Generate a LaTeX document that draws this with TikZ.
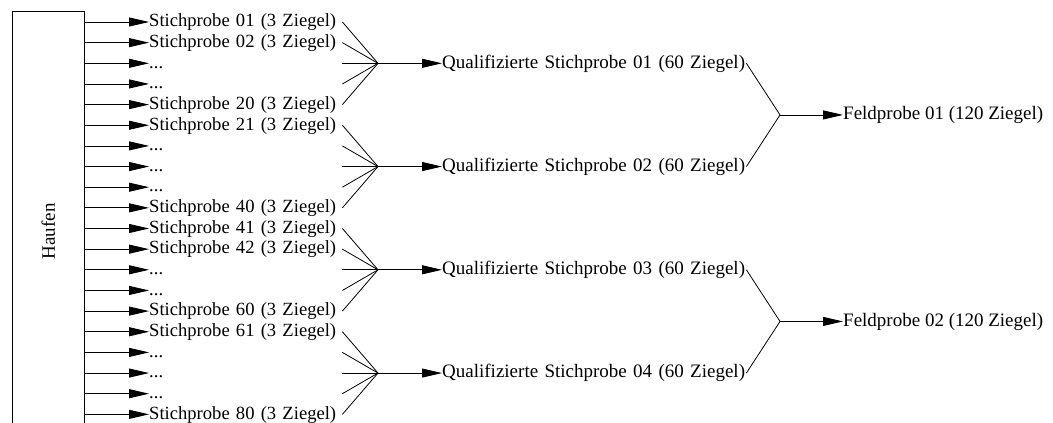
\documentclass[tikz,border=0pt]{standalone}
\usepackage{fontspec}
\setmainfont{Liberation Serif}
\usetikzlibrary{arrows.meta}
\begin{document}
\begin{tikzpicture}[x=1pt,y=-1pt,
  every node/.style={font=\fontsize{19}{22}\selectfont, inner sep=0pt},
  line/.style={draw=black, line width=0.8pt},
  arr/.style={line, -{Triangle[length=20pt,width=9pt]}},
  rowlbl/.style={anchor=west, text width=193pt, align=left, text height=14pt, text depth=4.5pt, font=\fontsize{18.6}{22}\selectfont},
  qlbl/.style={anchor=west, text width=304pt, align=left, text height=14pt, text depth=4.5pt},
  flbl/.style={anchor=west, text height=14pt, text depth=4.5pt}]
\useasboundingbox (0,0) rectangle (1053,423);
\clip (0,0) rectangle (1053,423);
\node[line, minimum width=72pt, minimum height=440pt, anchor=north west] (haufen) at (12,11) {};
\node[rotate=90] (hlabel) at (haufen.center) {Haufen};
\foreach \i/\t in {1/{Stichprobe 01 (3 Ziegel)},2/{Stichprobe 02 (3 Ziegel)},3/{...},4/{...},5/{Stichprobe 20 (3 Ziegel)},
  6/{Stichprobe 21 (3 Ziegel)},7/{...},8/{...},9/{...},10/{Stichprobe 40 (3 Ziegel)},
  11/{Stichprobe 41 (3 Ziegel)},12/{Stichprobe 42 (3 Ziegel)},13/{...},14/{...},15/{Stichprobe 60 (3 Ziegel)},
  16/{Stichprobe 61 (3 Ziegel)},17/{...},18/{...},19/{...},20/{Stichprobe 80 (3 Ziegel)}}{
  \pgfmathsetmacro\yy{22+(\i-1)*20.65}
  \node[rowlbl] (r\i) at (149,\yy) {\t};
  \draw[arr] (haufen.east |- r\i.west) -- (r\i.west);
}
\foreach \g in {1,...,4}{
  \pgfmathtruncatemacro\c{5*(\g-1)+3}
  \coordinate (m\g) at (378,0 |- r\c.west);
  \node[qlbl] (q\g) at (442,0 |- r\c.west) {Qualifizierte Stichprobe 0\g{} (60 Ziegel)};
  \foreach \k in {1,...,5}{
    \pgfmathtruncatemacro\n{5*(\g-1)+\k}
    \draw[line] (r\n.east) -- (m\g);
  }
  \draw[arr] (m\g) -- (q\g.west);
}
\path (q1.west) -- (q2.west) coordinate[pos=0.5] (h1);
\path (q3.west) -- (q4.west) coordinate[pos=0.5] (h2);
\coordinate (fm1) at (780,0 |- h1);
\coordinate (fm2) at (780,0 |- h2);
\node[flbl] (f1) at (843,0 |- h1) {Feldprobe 01 (120 Ziegel)};
\node[flbl] (f2) at (843,0 |- h2) {Feldprobe 02 (120 Ziegel)};
\draw[line] (q1.east) -- (fm1);
\draw[line] (q2.east) -- (fm1);
\draw[line] (q3.east) -- (fm2);
\draw[line] (q4.east) -- (fm2);
\draw[arr] (fm1) -- (f1.west);
\draw[arr] (fm2) -- (f2.west);
\end{tikzpicture}
\end{document}
